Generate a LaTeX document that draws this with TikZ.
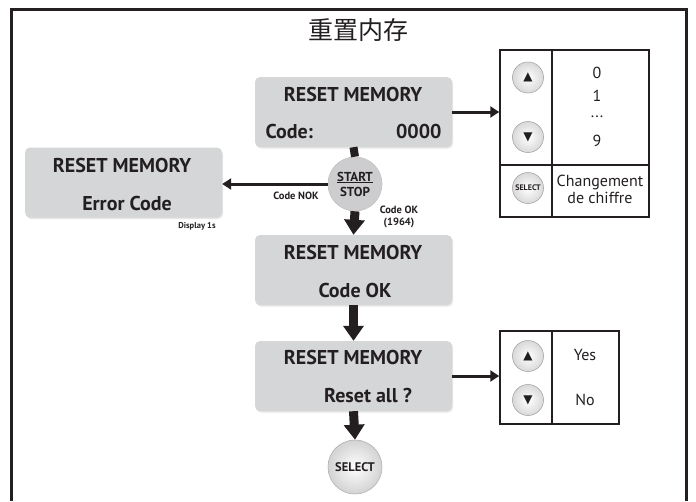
\documentclass[tikz,border=0pt]{standalone}
\usepackage{fontspec}
\setmainfont{PT Sans}
\newfontfamily\cjk{Noto Sans CJK SC}
\newfontfamily\symb{DejaVu Sans}
\usetikzlibrary{arrows.meta,shadows}
\definecolor{ink}{HTML}{231F20}
\definecolor{lcdgray}{HTML}{D5D6D8}
\definecolor{stopgray}{HTML}{CDCDCF}

\begin{document}
\begin{tikzpicture}[x=1pt,y=-1pt, ink,
	lcd/.style={rounded corners=5pt,fill=lcdgray,minimum width=197pt,minimum height=70pt,
		drop shadow={opacity=0.2,shadow xshift=1pt,shadow yshift=-1.5pt}},
	big/.style={font=\fontsize{20}{24}\selectfont\bfseries},
	small/.style={font=\fontsize{10.5}{12}\selectfont\bfseries,inner sep=0pt},
	menu/.style={font=\fontsize{16}{18}\selectfont,inner sep=0pt},
	btn/.style={circle,draw=gray!70,line width=0.6pt,inner color=white,outer color=gray!30,
		minimum size=31pt,inner sep=0pt,font=\symb\fontsize{12}{12}\selectfont},
	bigbtn/.style={circle,draw=gray!60,line width=0.6pt,inner color=white,outer color=gray!35,
		minimum size=54pt,inner sep=0pt,font=\fontsize{13}{14}\selectfont\bfseries},
	tab/.style={draw,line width=1.5pt,inner sep=0pt},
	fat/.style={line width=9pt,-{Triangle[width=20pt,length=15pt]}},
	thin/.style={line width=3pt,-{Triangle[width=11pt,length=9pt]}}]
	\useasboundingbox (0,0) rectangle (696,501);
	% frame
	\draw[line width=3pt] (11,501) -- (11,9.5) -- (686,9.5) -- (686,501);
	\node[font=\cjk\fontsize{25}{28}\selectfont] (title) at (358,30) {重置内存};

	% displays
	\node[lcd] (m1) at (353.5,112) {};
	\node[big] (m1a) at (353,94) {RESET MEMORY};
	\node[big,anchor=west] (m1b) at (262,131) {Code:};
	\node[big,anchor=east] (m1c) at (445,131) {0000};

	\node[lcd] (e) at (123.5,182.5) {};
	\node[big] (ea) at (122,165) {RESET MEMORY};
	\node[big] (eb) at (127,203) {Error Code};

	\node[lcd] (m2) at (353.5,270) {};
	\node[big] (m2a) at (353,252) {RESET MEMORY};
	\node[big] (m2b) at (355,290) {Code OK};

	\node[lcd] (m3) at (353.5,376) {};
	\node[big] (m3a) at (353,357) {RESET MEMORY};
	\node[big] (m3b) at (368,395) {Reset all ?};

	% keys
	\node[circle,draw=gray!50,line width=0.6pt,fill=stopgray,minimum size=54pt,inner sep=0pt,
		align=center,font=\fontsize{13}{15}\selectfont\bfseries] (s) at (355,184)
		{\underline{START}\\STOP};
	\node[bigbtn,font=\fontsize{12.5}{14}\selectfont\bfseries] (sel) at (355,467) {SELECT};
	\draw[line width=8pt] (m1.south) -- (s.north);
	\draw[fat] (s.south) -- (m2.north);
	\draw[fat] (m2.south) -- (m3.north);
	\draw[fat] (m3.south) -- (sel.north);
	\draw[thin] (s.west) -- (s.west -| e.east);
	\node[small] (nok) at (296,196) {Code NOK};
	\node[small] (ok) at (399,210) {Code OK};
	\node[small] (okc) at (399,223) {(1964)};
	\node[small,font=\fontsize{8.5}{10}\selectfont\bfseries] (disp) at (197,226) {Display 1s};

	% digit table
	\node[tab,minimum width=149pt,minimum height=167pt] (t1) at (574.5,133.5) {};
	\draw[line width=1.5pt] (552,50) -- (552,217);
	\draw[line width=1.5pt] (500,165) -- (649,165);
	\node[btn] (u1) at (528,77.5) {▲};
	\node[btn] (d1) at (528,137) {▼};
	\node[btn,font=\fontsize{8}{8}\selectfont\bfseries] (k1) at (528,188) {SELECT};
	\node[menu] (n0) at (597,73) {0};
	\node[menu] (n1) at (597,96) {1};
	\node[menu] (n2) at (597,117) {...};
	\node[menu] (n9) at (597,141) {9};
	\node[menu,anchor=base] (c1) at (600,186) {Changement};
	\node[menu,anchor=base] (c2) at (600,203) {de chiffre};
	\draw[thin] (m1.east) -- (m1.east -| t1.west);

	% yes/no table
	\node[tab,minimum width=119pt,minimum height=93pt] (t2) at (559.5,377.5) {};
	\draw[line width=1.5pt] (552,331) -- (552,424);
	\node[btn] (u2) at (528,356) {▲};
	\node[btn] (d2) at (528,400) {▼};
	\node[menu] (yes) at (585,355) {Yes};
	\node[menu] (no) at (585,400) {No};
	\draw[thin] (m3.east) -- (m3.east -| t2.west);
\end{tikzpicture}
\end{document}
